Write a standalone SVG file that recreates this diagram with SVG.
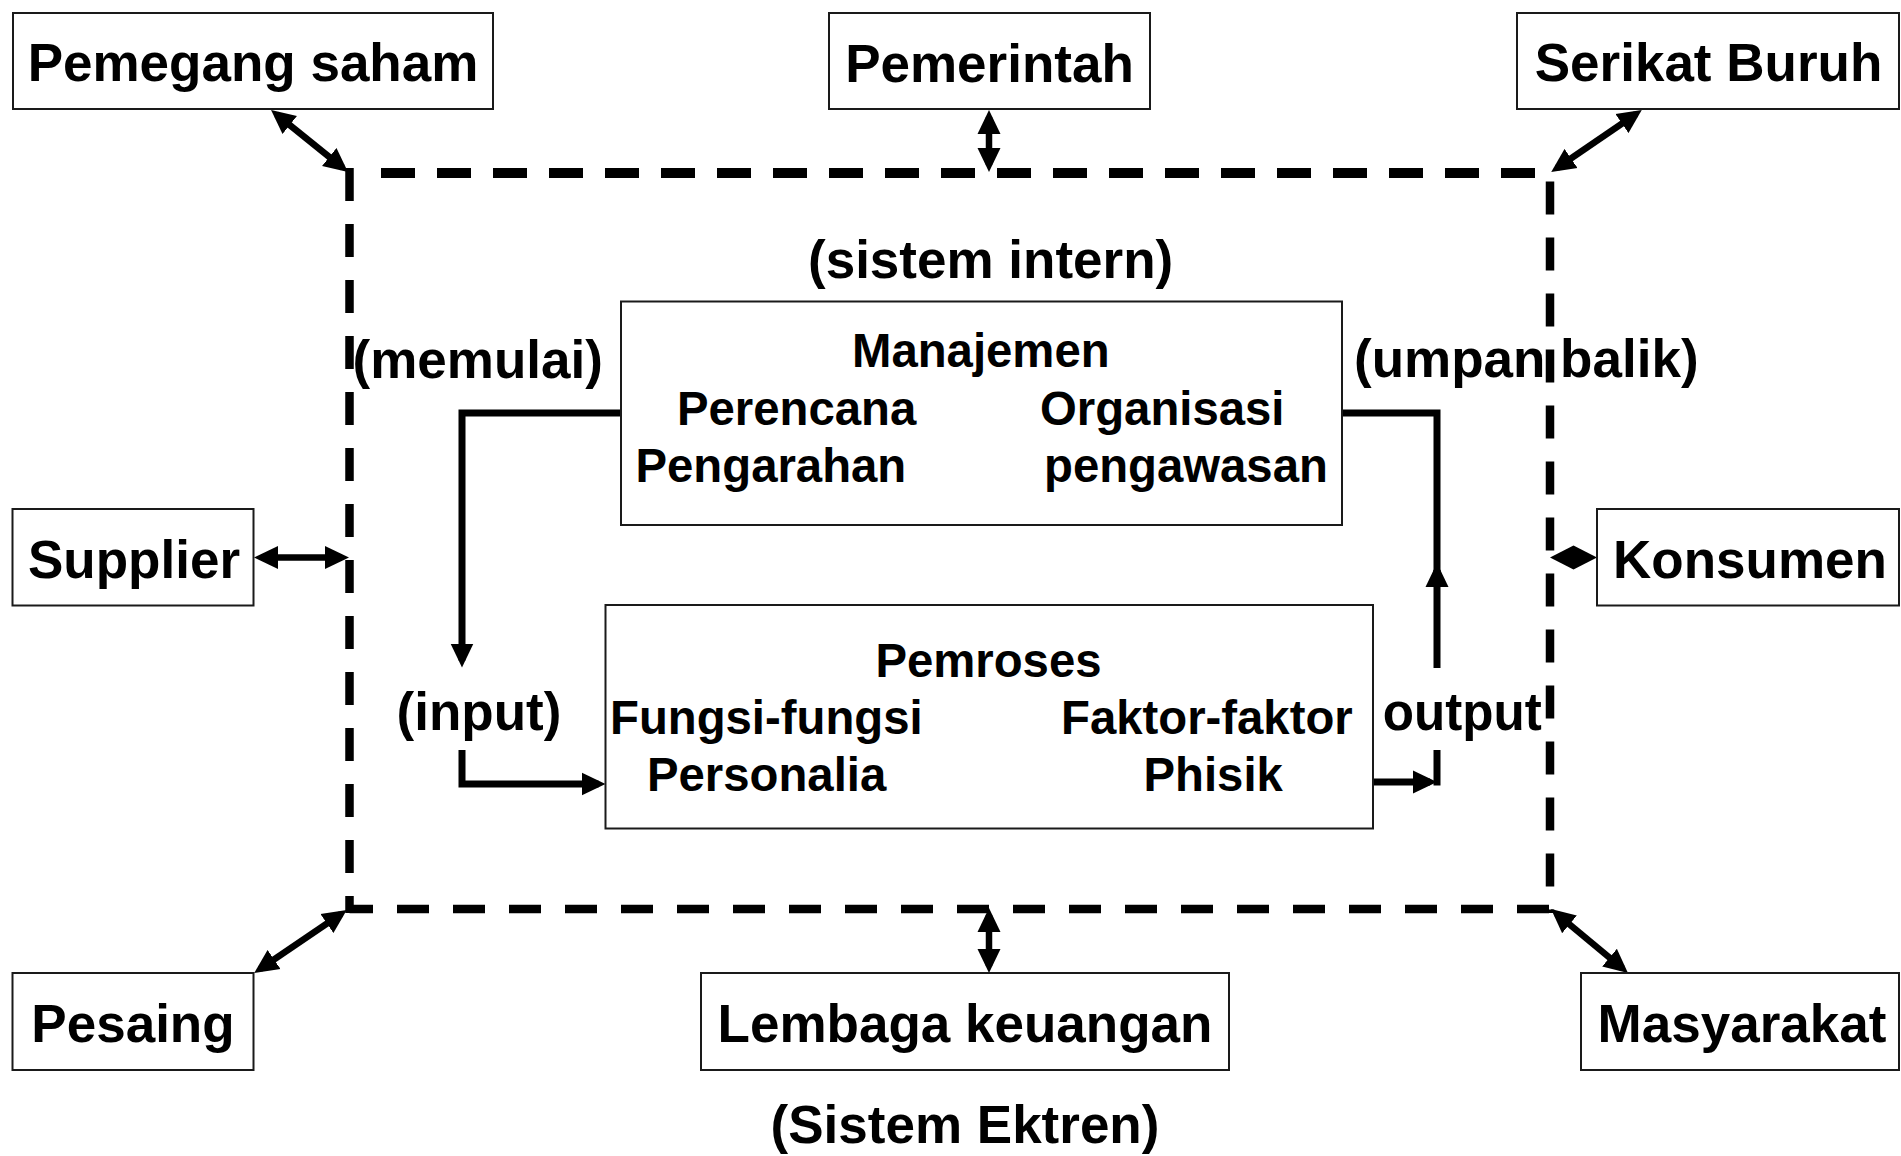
<svg xmlns="http://www.w3.org/2000/svg" width="1901" height="1156" viewBox="0 0 1901 1156">
<style>
.box{fill:#fff;stroke:#1a1a1a;stroke-width:2}
.t{font-family:"Liberation Sans",Arial,sans-serif;font-weight:bold;fill:#000}
.big{font-size:53px}
.in{font-size:47.3px}
.dash{fill:none;stroke:#000}
.ext{fill:none;stroke:#000;stroke-width:6.5}
.flow{fill:none;stroke:#000;stroke-width:7}
</style>
<defs>
<marker id="ah" viewBox="0 0 24 24" refX="17" refY="12" markerUnits="userSpaceOnUse" markerWidth="24" markerHeight="24" orient="auto-start-reverse">
<path d="M0,0.5 L24,12 L0,23.5 z" fill="#000"/>
</marker>
</defs>
<rect width="1901" height="1156" fill="#fff"/>

<g id="boundary">
<line class="dash" x1="381" y1="173" x2="1536" y2="173" stroke-width="10" stroke-dasharray="34 22"/>
<line class="dash" x1="349.5" y1="168" x2="349.5" y2="913" stroke-width="8.5" stroke-dasharray="33 23"/>
<line class="dash" x1="1550" y1="181.5" x2="1550" y2="913" stroke-width="8.5" stroke-dasharray="33 23"/>
<line class="dash" x1="349.5" y1="909" x2="1550" y2="909" stroke-width="8.5" stroke-dasharray="32 24" stroke-dashoffset="8.5"/>
</g>

<g id="connectors">
<line class="ext" x1="276.5" y1="114.4" x2="342.5" y2="167.6" marker-start="url(#ah)" marker-end="url(#ah)"/>
<line class="ext" x1="989" y1="117" x2="989" y2="165" marker-start="url(#ah)" marker-end="url(#ah)"/>
<line class="ext" x1="1636" y1="114" x2="1557" y2="168" marker-start="url(#ah)" marker-end="url(#ah)"/>
<line class="ext" x1="261" y1="557.5" x2="342" y2="557.5" marker-start="url(#ah)" marker-end="url(#ah)"/>
<polygon points="1550,557.5 1573.5,545.5 1597,557.5 1573.5,569.5" fill="#000"/>
<line class="ext" x1="260" y1="969" x2="341" y2="914" marker-start="url(#ah)" marker-end="url(#ah)"/>
<line class="ext" x1="989" y1="915" x2="989" y2="966" marker-start="url(#ah)" marker-end="url(#ah)"/>
<line class="ext" x1="1556.4" y1="913.5" x2="1622.6" y2="968.5" marker-start="url(#ah)" marker-end="url(#ah)"/>

<polyline class="flow" points="621,413 462,413 462,660.5" marker-end="url(#ah)"/>
<polyline class="flow" points="462,750 462,784 598.5,784" marker-end="url(#ah)"/>
<polyline class="flow" points="1342,413 1437,413 1437,580"/>
<line class="flow" x1="1437" y1="668" x2="1437" y2="570" marker-end="url(#ah)"/>
<line class="flow" x1="1437" y1="750" x2="1437" y2="785.5"/>
<line class="flow" x1="1373" y1="782" x2="1430" y2="782" marker-end="url(#ah)"/>
</g>

<g id="pemegang-saham">
<rect class="box" x="13" y="13" width="480" height="96"/>
<text class="t big" x="253" y="81" text-anchor="middle">Pemegang saham</text>
</g>
<g id="pemerintah">
<rect class="box" x="829" y="13" width="321" height="96"/>
<text class="t big" x="989.5" y="81.5" text-anchor="middle">Pemerintah</text>
</g>
<g id="serikat-buruh">
<rect class="box" x="1517" y="13" width="382" height="96"/>
<text class="t big" x="1708.5" y="81" text-anchor="middle">Serikat Buruh</text>
</g>
<g id="supplier">
<rect class="box" x="12.5" y="509" width="241" height="96.5"/>
<text class="t big" x="134" y="578" text-anchor="middle">Supplier</text>
</g>
<g id="konsumen">
<rect class="box" x="1597" y="509" width="302" height="96.5"/>
<text class="t big" x="1750" y="578" text-anchor="middle">Konsumen</text>
</g>
<g id="pesaing">
<rect class="box" x="12.5" y="973" width="241" height="97"/>
<text class="t big" x="133" y="1042" text-anchor="middle">Pesaing</text>
</g>
<g id="lembaga-keuangan">
<rect class="box" x="701" y="973" width="528" height="97"/>
<text class="t big" x="965" y="1042" text-anchor="middle">Lembaga keuangan</text>
</g>
<g id="masyarakat">
<rect class="box" x="1581" y="973" width="318" height="97"/>
<text class="t big" x="1742" y="1042" text-anchor="middle">Masyarakat</text>
</g>

<g id="manajemen">
<rect class="box" x="621" y="301.5" width="721" height="223.5"/>
<text class="t in" x="852" y="367">Manajemen</text>
<text class="t in" x="677" y="425">Perencana</text>
<text class="t in" x="1040" y="425">Organisasi</text>
<text class="t in" x="635.5" y="481.5">Pengarahan</text>
<text class="t in" x="1044" y="481.5">pengawasan</text>
</g>
<g id="pemroses">
<rect class="box" x="605.5" y="605" width="767.5" height="223.5"/>
<text class="t in" x="875.4" y="676.5">Pemroses</text>
<text class="t in" x="610" y="734">Fungsi-fungsi</text>
<text class="t in" x="1061" y="734">Faktor-faktor</text>
<text class="t in" x="647" y="791">Personalia</text>
<text class="t in" x="1143.5" y="791">Phisik</text>
</g>

<g id="labels">
<text class="t big" x="990.6" y="278" text-anchor="middle">(sistem intern)</text>
<text class="t big" x="352.5" y="378">(memulai)</text>
<text class="t big" x="1354" y="377">(umpan balik)</text>
<text class="t big" x="396.6" y="730">(input)</text>
<text class="t big" x="1382.7" y="730" textLength="159" lengthAdjust="spacingAndGlyphs">output</text>
<text class="t big" x="965" y="1143" text-anchor="middle">(Sistem Ektren)</text>
</g>
</svg>
